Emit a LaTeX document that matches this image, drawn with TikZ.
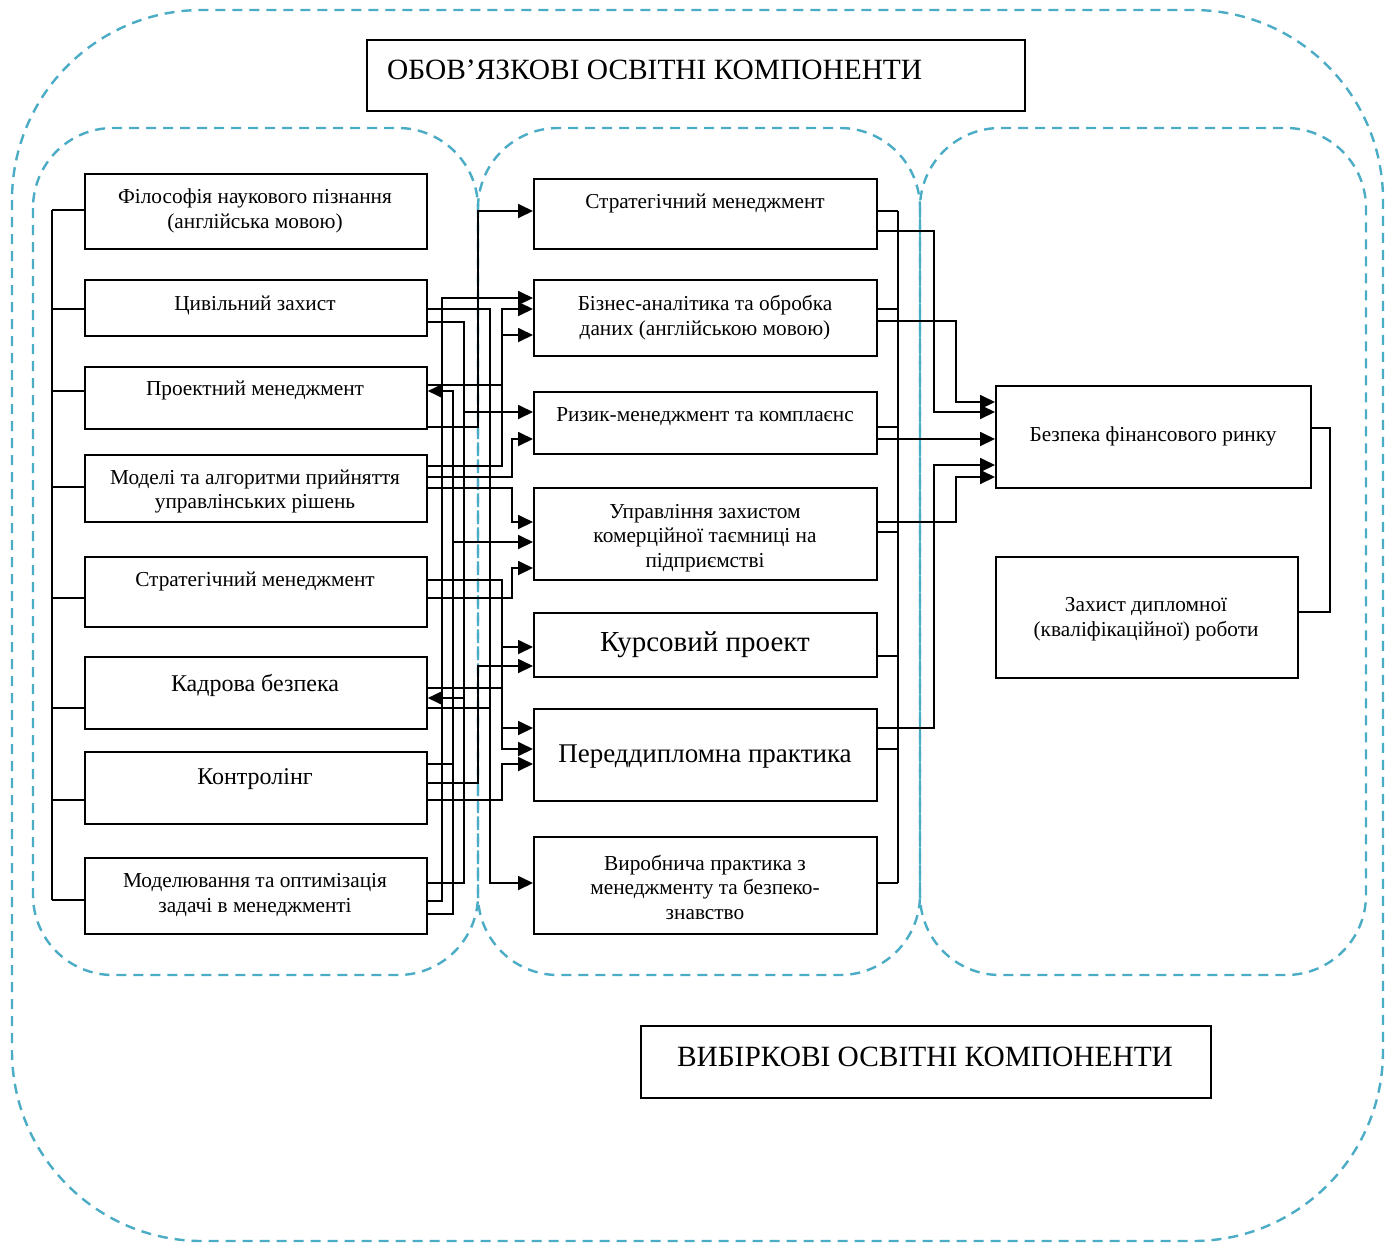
\documentclass[tikz,border=0pt]{standalone}
\usepackage{fontspec}
\setmainfont{Liberation Serif}
\usetikzlibrary{arrows.meta}
\definecolor{dashblue}{HTML}{4BACC6}
\begin{document}
\begin{tikzpicture}[x=1pt,y=-1pt,
  box/.style={draw,line width=1.8pt,inner sep=0pt,anchor=north west},
  txt/.style={align=center,inner sep=0pt,yshift=-2pt,font=\fontsize{21.3}{24.5}\selectfont},
  mtxt/.style={align=center,inner sep=0pt,yshift=-2pt,font=\fontsize{24}{28}\selectfont},
  btxt/.style={align=center,inner sep=0pt,yshift=-2pt,font=\fontsize{29}{32}\selectfont},
  b2txt/.style={align=center,inner sep=0pt,yshift=-2pt,font=\fontsize{27}{32}\selectfont},
  ttxt/.style={inner sep=0pt,yshift=-2pt,font=\fontsize{29.4}{32}\selectfont},
  ln/.style={line width=1.8pt},
  arr/.style={line width=1.8pt,-{Triangle[length=15pt,width=14pt]}},
  blued/.style={draw=dashblue,line width=2.4pt,dash pattern=on 10pt off 7pt}]
\useasboundingbox (0,0) rectangle (1391,1243);
\fill[white] (0,0) rectangle (1391,1243);
% dashed groups
\draw[blued,rounded corners=190pt] (12,10) rectangle (1383,1241);
\draw[blued,rounded corners=80pt] (33,128) rectangle (478,975);
\draw[blued,rounded corners=80pt] (478,128) rectangle (920,975);
\draw[blued,rounded corners=80pt] (920,128) rectangle (1366,975);
% title boxes
\node[box,minimum width=658pt,minimum height=71pt] (T1) at (366,39) {};
\node[ttxt,anchor=west] (tT1) at (387,68) {ОБОВ’ЯЗКОВІ ОСВІТНІ КОМПОНЕНТИ};
\node[box,minimum width=570pt,minimum height=72pt] (T2) at (640,1025) {};
\node[ttxt] (tT2) at (925,1055) {ВИБІРКОВІ ОСВІТНІ КОМПОНЕНТИ};
% left boxes
\node[box,minimum width=342pt,minimum height=75pt] (L1) at (84,173) {};
\node[box,minimum width=342pt,minimum height=56pt] (L2) at (84,279) {};
\node[box,minimum width=342pt,minimum height=62pt] (L3) at (84,366) {};
\node[box,minimum width=342pt,minimum height=67pt] (L4) at (84,454) {};
\node[box,minimum width=342pt,minimum height=70pt] (L5) at (84,556) {};
\node[box,minimum width=342pt,minimum height=72pt] (L6) at (84,656) {};
\node[box,minimum width=342pt,minimum height=72pt] (L7) at (84,751) {};
\node[box,minimum width=342pt,minimum height=76pt] (L8) at (84,857) {};
\node[txt] (tL1) at (255,209) {Філософія наукового пізнання\\(англійська мовою)};
\node[txt] (tL2) at (255,303) {Цивільний захист};
\node[txt] (tL3) at (255,388) {Проектний менеджмент};
\node[txt] (tL4) at (255,489.5) {Моделі та алгоритми прийняття\\управлінських рішень};
\node[txt] (tL5) at (255,579) {Стратегічний менеджмент};
\node[mtxt] (tL6) at (255,683) {Кадрова безпека};
\node[mtxt] (tL7) at (255,777) {Контролінг};
\node[txt] (tL8) at (255,893) {Моделювання та оптимізація\\задачі в менеджменті};
% middle boxes
\node[box,minimum width=343pt,minimum height=70pt] (A) at (533,178) {};
\node[box,minimum width=343pt,minimum height=76pt] (B) at (533,279) {};
\node[box,minimum width=343pt,minimum height=62pt] (C) at (533,391) {};
\node[box,minimum width=343pt,minimum height=92pt] (D) at (533,487) {};
\node[box,minimum width=343pt,minimum height=64pt] (E) at (533,612) {};
\node[box,minimum width=343pt,minimum height=92pt] (F) at (533,708) {};
\node[box,minimum width=343pt,minimum height=97pt] (G) at (533,836) {};
\node[txt] (tA) at (705,201) {Стратегічний менеджмент};
\node[txt] (tB) at (705,315.5) {Бізнес-аналітика та обробка\\даних (англійською мовою)};
\node[txt] (tC) at (705,415) {Ризик-менеджмент та комплаєнс};
\node[txt] (tD) at (705,536) {Управління захистом\\комерційної таємниці на\\підприємстві};
\node[btxt] (tE) at (705,643) {Курсовий проект};
\node[b2txt] (tF) at (705,755) {Переддипломна практика};
\node[txt] (tG) at (705,885) {Виробнича практика з\\менеджменту та безпеко-\\знавство};
% right boxes
\node[box,minimum width=315pt,minimum height=102pt] (R1) at (995,385) {};
\node[box,minimum width=302pt,minimum height=121pt] (R2) at (995,556) {};
\node[txt] (tR1) at (1153,434) {Безпека фінансового ринку};
\node[txt] (tR2) at (1146,617) {Захист дипломної\\(кваліфікаційної) роботи};
% left bracket
\coordinate (lbT) at (52,210);
\coordinate (lbB) at (52,900);
\draw[ln] (lbT) -- (lbB);
\foreach \n/\y in {L1/210,L2/309,L3/391,L4/487,L5/598,L6/708,L7/800,L8/900}
  \draw[ln] (\n.west |- 0,\y) -- (52,\y);
% left -> middle connectors
\draw[arr] (L3.east |- 0,427) -| (478,211) -- (A.west |- 0,211);
\draw[arr] (L8.east |- 0,901) -| (442,298) -- (B.west |- 0,298);
\draw[arr] (L2.east |- 0,309) -| (490,883) -- (G.west |- 0,883);
\draw[arr] (L2.east |- 0,322) -| (464,412) -- (C.west |- 0,412);
\draw[ln] (L8.east |- 0,883) -| (464,412);
\draw[arr] (464,698) -- (L6.east |- 0,698);
\draw[arr] (L4.east |- 0,466) -| (502,309) -- (B.west |- 0,309);
\draw[arr] (502,335) -- (B.west |- 0,335);
\draw[ln] (L3.east |- 0,385) -- (502,385);
\draw[arr] (L8.east |- 0,914) -| (453,391) -- (L3.east |- 0,391);
\draw[arr] (453,542) -- (D.west |- 0,542);
\draw[ln] (L7.east |- 0,764) -- (453,764);
\draw[arr] (L4.east |- 0,477) -| (512,439) -- (C.west |- 0,439);
\draw[arr] (L4.east |- 0,488) -| (512,522) -- (D.west |- 0,522);
\draw[arr] (L5.east |- 0,598) -| (512,568) -- (D.west |- 0,568);
\draw[arr] (L5.east |- 0,580) -| (502,749) -- (F.west |- 0,749);
\draw[arr] (502,647) -- (E.west |- 0,647);
\draw[arr] (502,728) -- (F.west |- 0,728);
\draw[ln] (L6.east |- 0,688) -- (502,688);
\draw[ln] (L6.east |- 0,708) -- (490,708);
\draw[arr] (L7.east |- 0,800) -| (502,764) -- (F.west |- 0,764);
\draw[arr] (L7.east |- 0,783) -| (478,666) -- (E.west |- 0,666);
% right bracket of middle column
\draw[ln] (898,211) -- (898,883);
\foreach \n/\y in {A/211,B/309,C/427,D/532,E/656,F/749,G/883}
  \draw[ln] (\n.east |- 0,\y) -- (898,\y);
% middle -> right connectors
\draw[arr] (A.east |- 0,231) -| (934,412) -- (R1.west |- 0,412);
\draw[arr] (B.east |- 0,321) -| (956,402) -- (R1.west |- 0,402);
\draw[arr] (C.east |- 0,439) -- (R1.west |- 0,439);
\draw[arr] (D.east |- 0,522) -| (956,477) -- (R1.west |- 0,477);
\draw[arr] (F.east |- 0,728) -| (934,465) -- (R1.west |- 0,465);
% right bracket
\draw[ln] (R1.east |- 0,428) -| (1330,612) -- (R2.east |- 0,612);
\end{tikzpicture}
\end{document}
